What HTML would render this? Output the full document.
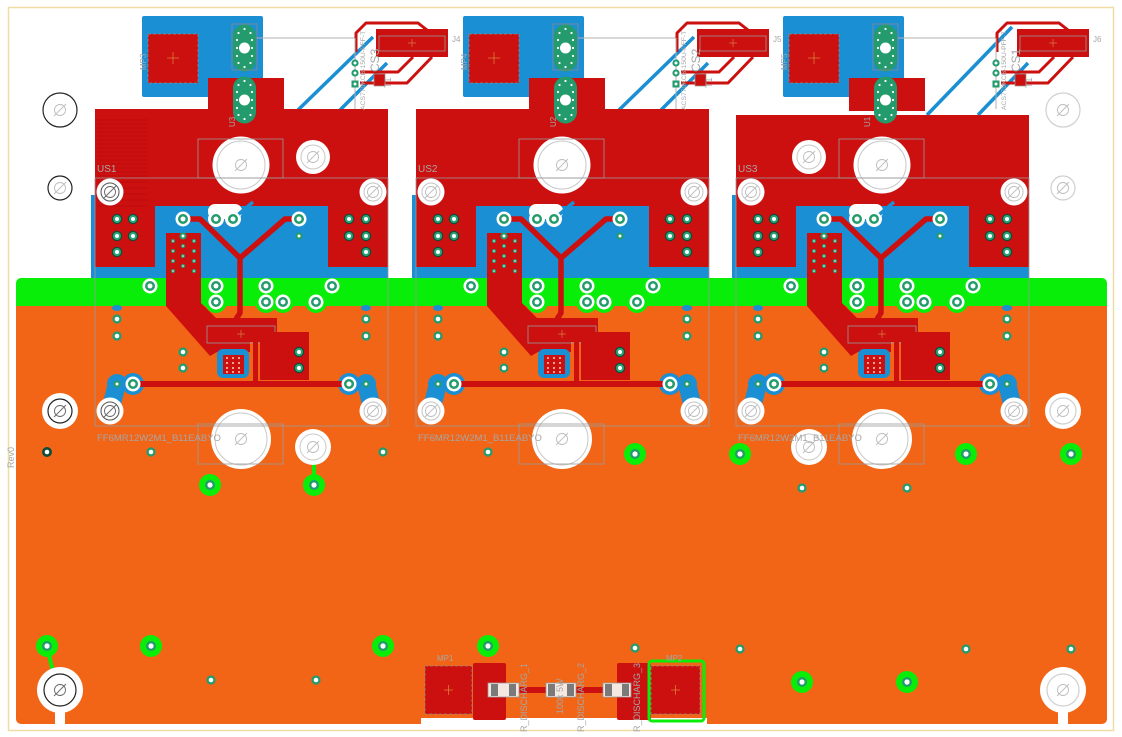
<!DOCTYPE html>
<html><head><meta charset="utf-8"><style>
html,body{margin:0;padding:0;background:#fff;}
svg{display:block;}
text{font-family:"Liberation Sans",sans-serif;fill:#a6a6a6;}
</style></head><body>
<svg width="1122" height="737" viewBox="0 0 1122 737" xmlns="http://www.w3.org/2000/svg">
<defs>
 <g id="v"><circle r="4.6" fill="#239b6d"/><circle r="2.3" fill="#fff"/></g>
 <g id="cv"><circle r="7.5" fill="#fff"/><circle r="5" fill="#239b6d"/><circle r="2.5" fill="#fff"/></g>
 <g id="gv"><circle r="11" fill="#08ee08"/><circle r="5" fill="#239b6d"/><circle r="2.6" fill="#fff"/></g>
 <g id="rv"><circle r="5.2" fill="#0f4d38"/><circle r="4" fill="#2aa476"/><circle r="2" fill="#fff"/></g>
 <g id="sd"><circle r="3.6" fill="#239b6d"/><circle r="1.5" fill="#fff"/></g>
 <g id="td"><circle r="2" fill="#239b6d"/><circle r="0.8" fill="#fff"/></g>
 <g id="dia"><circle r="5.5" fill="none" stroke="#bdbdbd" stroke-width="0.9"/><line x1="-6" y1="6" x2="6" y2="-6" stroke="#bdbdbd" stroke-width="0.9"/></g>
 <g id="diad"><circle r="5.5" fill="none" stroke="#666" stroke-width="0.9"/><line x1="-6" y1="6" x2="6" y2="-6" stroke="#666" stroke-width="0.9"/></g>
 <g id="scr"><circle r="13.5" fill="#fff"/><circle r="9" fill="none" stroke="#c4c4c4" stroke-width="1"/><use href="#dia"/></g>
 <g id="oval">
  <rect x="-11.5" y="-23.5" width="23" height="47" rx="11.5" fill="#239b6d"/>
  <circle r="5.5" fill="#fff"/>
  <g fill="#fff">
   <circle cx="-6" cy="-15" r="1.1"/><circle cx="0" cy="-19" r="1.1"/><circle cx="6" cy="-15" r="1.1"/>
   <circle cx="-7.5" cy="-8" r="1.1"/><circle cx="7.5" cy="-8" r="1.1"/>
   <circle cx="-7.5" cy="0" r="1.1"/><circle cx="7.5" cy="0" r="1.1"/>
   <circle cx="-7.5" cy="8" r="1.1"/><circle cx="7.5" cy="8" r="1.1"/>
   <circle cx="-6" cy="15" r="1.1"/><circle cx="0" cy="19" r="1.1"/><circle cx="6" cy="15" r="1.1"/>
  </g>
 </g>
 <g id="mA">
  <rect x="142" y="16" width="121" height="81" rx="2" fill="#1a8fd3"/>
  <rect x="91" y="195" width="297" height="83" fill="#1a8fd3"/>
 </g>
 <g id="mB">
  <rect x="208" y="78" width="76" height="33" fill="#cc0f0f"/>
  <rect x="148" y="34" width="50" height="49" fill="#cc0f0f" stroke="#8a8a8a" stroke-width="0.8" stroke-dasharray="3 2"/>
  <line x1="167" y1="58" x2="179" y2="58" stroke="#e0a040" stroke-width="0.6"/>
  <line x1="173" y1="52" x2="173" y2="64" stroke="#e0a040" stroke-width="0.6"/>
  <use href="#oval" x="244.5" y="48"/>
  <use href="#oval" x="244.5" y="100"/>
  <rect x="232" y="24" width="25" height="46" fill="none" stroke="#8a8a8a" stroke-width="0.8"/>
  <line x1="257" y1="38" x2="355" y2="38" stroke="#b0b0b0" stroke-width="1"/>
  <circle cx="241" cy="165" r="28.5" fill="#fff"/>
  <circle cx="241" cy="165" r="24" fill="none" stroke="#c8c8c8" stroke-width="1"/>
  <use href="#dia" x="241" y="165"/>
  <rect x="198" y="139" width="85" height="39" fill="none" stroke="#9a9a9a" stroke-width="0.8"/>
  <rect x="208" y="204" width="34" height="15" rx="7" fill="#fff"/>
  <circle cx="216" cy="219" r="8" fill="#fff"/>
  <circle cx="233" cy="219" r="8" fill="#fff"/>
  <line x1="233" y1="219" x2="253" y2="202" stroke="#1a8fd3" stroke-width="3.5"/>
  <use href="#scr" x="110" y="192"/>
  <use href="#scr" x="373" y="192"/>
  <g fill="#08ee08">
   <circle cx="216" cy="302" r="11"/><circle cx="266" cy="302" r="11"/><circle cx="283" cy="302" r="11"/><circle cx="316" cy="302" r="11"/>
  </g>
  <ellipse cx="117" cy="308" rx="5" ry="3" fill="#1a8fd3"/>
  <ellipse cx="366" cy="308" rx="5" ry="3" fill="#1a8fd3"/>
  <polygon points="166,233 201,233 201,303 216,318 277,318 277,342 250,342 250,352 217,352 210,356 166,306" fill="#cc0f0f"/>
  <g>
   <use href="#td" x="173" y="241"/><use href="#td" x="183" y="246"/><use href="#td" x="194" y="241"/>
   <use href="#td" x="173" y="251"/><use href="#td" x="183" y="256"/><use href="#td" x="194" y="251"/>
   <use href="#td" x="173" y="261"/><use href="#td" x="183" y="266"/><use href="#td" x="194" y="261"/>
   <use href="#td" x="173" y="271"/><use href="#td" x="194" y="271"/>
  </g>
  <polyline points="183,219 200,219 240,258 240,313 236,319" fill="none" stroke="#cc0f0f" stroke-width="5.5" stroke-linejoin="round"/>
  <polyline points="299,219 285,219 240,258" fill="none" stroke="#cc0f0f" stroke-width="5.5" stroke-linejoin="round"/>
  <rect x="207" y="326" width="68" height="17" fill="none" stroke="#9a9a9a" stroke-width="0.8"/>
  <line x1="237" y1="334" x2="245" y2="334" stroke="#d89050" stroke-width="0.6"/>
  <line x1="241" y1="330" x2="241" y2="338" stroke="#d89050" stroke-width="0.6"/>
  <rect x="217" y="349" width="32" height="29" rx="6" fill="#1a8fd3"/>
  <rect x="223" y="355" width="21" height="19" fill="#cc0f0f"/>
  <g fill="#f4b0a0">
   <circle cx="227" cy="358" r="1.1"/><circle cx="233" cy="358" r="1.1"/><circle cx="239" cy="358" r="1.1"/>
   <circle cx="227" cy="363" r="1.1"/><circle cx="233" cy="363" r="1.1"/><circle cx="239" cy="363" r="1.1"/>
   <circle cx="227" cy="368" r="1.1"/><circle cx="233" cy="368" r="1.1"/><circle cx="239" cy="368" r="1.1"/>
   <circle cx="227" cy="372" r="1.1"/><circle cx="233" cy="372" r="1.1"/><circle cx="239" cy="372" r="1.1"/>
  </g>
  <rect x="253" y="342" width="5" height="42" fill="#cc0f0f"/>
  <rect x="260" y="332" width="49" height="48" fill="#cc0f0f"/>
  <use href="#rv" x="299" y="352"/><use href="#rv" x="299" y="368"/>
  <line x1="117" y1="384" x2="110" y2="411" stroke="#1a8fd3" stroke-width="18" stroke-linecap="round"/>
  <circle cx="117" cy="384" r="10" fill="#1a8fd3"/><circle cx="133" cy="384" r="11" fill="#1a8fd3"/>
  <line x1="366" y1="384" x2="373" y2="411" stroke="#1a8fd3" stroke-width="18" stroke-linecap="round"/>
  <circle cx="349" cy="384" r="11" fill="#1a8fd3"/><circle cx="366" cy="384" r="10" fill="#1a8fd3"/>
  <rect x="133" y="381" width="216" height="6" fill="#cc0f0f"/>
  <use href="#cv" x="133" y="384"/><use href="#cv" x="349" y="384"/>
  <use href="#sd" x="117" y="384"/><use href="#sd" x="366" y="384"/>
  <use href="#scr" x="110" y="411"/>
  <use href="#scr" x="373" y="411"/>
  <use href="#rv" x="117" y="219"/><use href="#rv" x="133" y="219"/><use href="#rv" x="117" y="236"/><use href="#rv" x="133" y="236"/><use href="#rv" x="117" y="252"/>
  <use href="#rv" x="349" y="219"/><use href="#rv" x="366" y="219"/><use href="#rv" x="349" y="236"/><use href="#rv" x="366" y="236"/><use href="#rv" x="366" y="252"/>
  <use href="#cv" x="183" y="219"/><use href="#cv" x="216" y="219"/><use href="#cv" x="233" y="219"/><use href="#cv" x="299" y="219"/>
  <use href="#sd" x="183" y="236"/><use href="#sd" x="299" y="236"/>
  <use href="#cv" x="150" y="286"/><use href="#cv" x="216" y="286"/><use href="#cv" x="266" y="286"/><use href="#cv" x="332" y="286"/>
  <use href="#cv" x="216" y="302"/><use href="#cv" x="266" y="302"/><use href="#cv" x="283" y="302"/><use href="#cv" x="316" y="302"/>
  <use href="#v" x="117" y="319"/><use href="#v" x="117" y="336"/><use href="#v" x="366" y="319"/><use href="#v" x="366" y="336"/>
  <use href="#v" x="183" y="352"/><use href="#v" x="183" y="368"/>
  <circle cx="241" cy="439" r="30" fill="#fff"/>
  <circle cx="241" cy="439" r="26" fill="none" stroke="#c8c8c8" stroke-width="1"/>
  <use href="#dia" x="241" y="439"/>
  <rect x="198" y="424" width="85" height="40" fill="none" stroke="#9a9a9a" stroke-width="0.8"/>
  <rect x="95" y="178" width="293" height="248" fill="none" stroke="#9a9a9a" stroke-width="0.8"/>
  <rect x="376" y="29" width="72" height="28" fill="#cc0f0f"/>
  <rect x="379" y="36" width="66" height="15" fill="none" stroke="#9a9a9a" stroke-width="0.8"/>
  <line x1="408" y1="43" x2="416" y2="43" stroke="#d89050" stroke-width="0.6"/>
  <line x1="412" y1="39" x2="412" y2="47" stroke="#d89050" stroke-width="0.6"/>
  <g fill="none" stroke="#cc0f0f" stroke-width="3" stroke-linejoin="round">
   <polyline points="356,52 356,33 366,23 418,23 427,30"/>
   <polyline points="413,57 398,72 360,72"/>
   <polyline points="432,57 407,83 360,83"/>
  </g>
  <rect x="374" y="74" width="11" height="12" fill="#cc0f0f" stroke="#9a9a9a" stroke-width="0.7"/>
  <line x1="355" y1="38" x2="355" y2="109" stroke="#b0b0b0" stroke-width="1"/>
  <use href="#sd" x="355" y="63"/><use href="#sd" x="355" y="73"/>
  <rect x="351.5" y="80.5" width="7" height="7" fill="#239b6d"/><circle cx="355" cy="84" r="1.5" fill="#fff"/>
 </g>
</defs>

<rect x="8.5" y="7.5" width="1105" height="723" fill="none" stroke="#f1dca5" stroke-width="1.5"/>

<rect x="16" y="300" width="1091" height="424" rx="5" fill="#f26516"/>
<rect x="16" y="278" width="1091" height="27" rx="5" fill="#08ee08"/>
<rect x="16" y="290" width="1091" height="16" fill="#08ee08"/>
<rect x="421" y="718" width="286" height="8" fill="#fff"/>

<use href="#mA"/>
<use href="#mA" x="321"/>
<use href="#mA" x="641"/>

<g stroke="#1a8fd3" stroke-width="3.5">
 <line x1="298" y1="110" x2="373" y2="37"/><line x1="340" y1="110" x2="387" y2="63"/>
 <line x1="619" y1="110" x2="694" y2="37"/><line x1="661" y1="110" x2="708" y2="63"/>
 <line x1="927" y1="115" x2="1012" y2="27"/><line x1="978" y1="115" x2="1028" y2="63"/>
</g>

<g fill="#cc0f0f">
 <path d="M95,109 H388 V267 H328 V206 H155 V267 H95 Z"/>
 <path d="M416,109 H709 V267 H649 V206 H476 V267 H416 Z"/>
 <path d="M736,115 H1029 V267 H969 V206 H796 V267 H736 Z"/>
</g>
<g stroke="#a80707" stroke-width="0.6" opacity="0.7">
 <line x1="97" y1="120" x2="148" y2="120"/><line x1="97" y1="124" x2="148" y2="124"/><line x1="97" y1="128" x2="148" y2="128"/><line x1="97" y1="132" x2="148" y2="132"/><line x1="97" y1="136" x2="148" y2="136"/><line x1="97" y1="140" x2="148" y2="140"/><line x1="97" y1="144" x2="148" y2="144"/><line x1="97" y1="148" x2="148" y2="148"/><line x1="97" y1="152" x2="148" y2="152"/><line x1="97" y1="156" x2="148" y2="156"/><line x1="97" y1="160" x2="148" y2="160"/><line x1="97" y1="164" x2="148" y2="164"/><line x1="97" y1="168" x2="148" y2="168"/><line x1="97" y1="172" x2="148" y2="172"/><line x1="97" y1="176" x2="148" y2="176"/><line x1="97" y1="182" x2="148" y2="182"/><line x1="97" y1="188" x2="148" y2="188"/><line x1="97" y1="194" x2="148" y2="194"/><line x1="97" y1="200" x2="148" y2="200"/><line x1="97" y1="206" x2="148" y2="206"/>
</g>

<line x1="314" y1="462" x2="314" y2="485" stroke="#08ee08" stroke-width="4"/>
<line x1="47" y1="646" x2="53" y2="672" stroke="#08ee08" stroke-width="4"/>

<use href="#mB"/>
<use href="#mB" x="321"/>
<use href="#mB" x="641"/>

<circle cx="110" cy="192" r="9" fill="#fff" stroke="#555" stroke-width="1"/><use href="#diad" x="110" y="192"/>
<circle cx="110" cy="411" r="9" fill="#fff" stroke="#555" stroke-width="1"/><use href="#diad" x="110" y="411"/>

<g>
 <circle cx="313" cy="157" r="17" fill="#fff"/><circle cx="313" cy="157" r="12" fill="none" stroke="#c8c8c8"/><use href="#dia" x="313" y="157"/>
 <circle cx="313" cy="447" r="18" fill="#fff"/><circle cx="313" cy="447" r="13" fill="none" stroke="#c8c8c8"/><use href="#dia" x="313" y="447"/>
 <circle cx="809" cy="157" r="17" fill="#fff"/><circle cx="809" cy="157" r="12" fill="none" stroke="#c8c8c8"/><use href="#dia" x="809" y="157"/>
 <circle cx="809" cy="447" r="18" fill="#fff"/><circle cx="809" cy="447" r="13" fill="none" stroke="#c8c8c8"/><use href="#dia" x="809" y="447"/>
</g>

<circle cx="60" cy="110" r="17" fill="#fff" stroke="#222" stroke-width="1.2"/><use href="#dia" x="60" y="110"/>
<circle cx="60" cy="188" r="12" fill="#fff" stroke="#222" stroke-width="1.2"/><use href="#dia" x="60" y="188"/>
<circle cx="60" cy="411" r="18" fill="#fff"/><circle cx="60" cy="411" r="12" fill="none" stroke="#222" stroke-width="1.2"/><use href="#diad" x="60" y="411"/>
<rect x="55" y="700" width="10" height="26" fill="#fff"/>
<circle cx="60" cy="690" r="23" fill="#fff"/><circle cx="60" cy="690" r="16" fill="none" stroke="#222" stroke-width="1.2"/><use href="#diad" x="60" y="690"/>
<circle cx="1063" cy="110" r="17" fill="#fff" stroke="#cfcfcf" stroke-width="1.2"/><use href="#dia" x="1063" y="110"/>
<circle cx="1063" cy="188" r="12" fill="#fff" stroke="#cfcfcf" stroke-width="1.2"/><use href="#dia" x="1063" y="188"/>
<circle cx="1063" cy="411" r="18" fill="#fff"/><circle cx="1063" cy="411" r="13" fill="none" stroke="#cfcfcf" stroke-width="1.2"/><use href="#dia" x="1063" y="411"/>
<rect x="1058" y="700" width="10" height="26" fill="#fff"/>
<circle cx="1063" cy="690" r="23" fill="#fff"/><circle cx="1063" cy="690" r="16" fill="none" stroke="#cfcfcf" stroke-width="1.2"/><use href="#dia" x="1063" y="690"/>

<circle cx="47" cy="452" r="5" fill="#0f4d38"/><circle cx="47" cy="452" r="2.3" fill="#fff"/>
<use href="#v" x="151" y="452"/><use href="#v" x="383" y="452"/><use href="#v" x="488" y="452"/>
<use href="#v" x="802" y="488"/><use href="#v" x="907" y="488"/>
<use href="#v" x="635" y="648"/><use href="#v" x="740" y="649"/><use href="#v" x="966" y="649"/><use href="#v" x="1071" y="649"/>
<use href="#v" x="211" y="680"/><use href="#v" x="316" y="680"/>
<use href="#gv" x="635" y="454"/><use href="#gv" x="740" y="454"/><use href="#gv" x="966" y="454"/><use href="#gv" x="1071" y="454"/>
<use href="#gv" x="210" y="485"/><use href="#gv" x="314" y="485"/>
<use href="#gv" x="47" y="646"/><use href="#gv" x="151" y="646"/><use href="#gv" x="383" y="646"/><use href="#gv" x="488" y="646"/>
<use href="#gv" x="802" y="682"/><use href="#gv" x="907" y="682"/>

<rect x="425" y="666" width="47" height="48" fill="#cc0f0f" stroke="#8a8a8a" stroke-width="0.8" stroke-dasharray="3 2"/>
<line x1="444" y1="690" x2="453" y2="690" stroke="#e0a040" stroke-width="0.6"/><line x1="448.5" y1="685" x2="448.5" y2="695" stroke="#e0a040" stroke-width="0.6"/>
<rect x="473" y="663" width="33" height="57" rx="2" fill="#cc0f0f"/>
<rect x="617" y="663" width="34" height="57" rx="2" fill="#cc0f0f"/>
<rect x="649" y="661" width="55" height="60" rx="3" fill="none" stroke="#08ee08" stroke-width="3"/>
<rect x="651" y="666" width="49" height="48" fill="#cc0f0f" stroke="#8a8a8a" stroke-width="0.8" stroke-dasharray="3 2"/>
<line x1="671" y1="690" x2="680" y2="690" stroke="#e0a040" stroke-width="0.6"/><line x1="675.5" y1="685" x2="675.5" y2="695" stroke="#e0a040" stroke-width="0.6"/>
<rect x="506" y="687" width="112" height="6" fill="#cc0f0f"/>
<g>
 <rect x="488" y="683" width="31" height="14" fill="#f5e8e0" stroke="#9a9a9a" stroke-width="0.8"/>
 <rect x="491" y="684" width="7" height="12" fill="#7a7a7a"/><rect x="509" y="684" width="7" height="12" fill="#7a7a7a"/>
 <rect x="546" y="683" width="30" height="14" fill="#f5e8e0" stroke="#9a9a9a" stroke-width="0.8"/>
 <rect x="548" y="684" width="7" height="12" fill="#7a7a7a"/><rect x="567" y="684" width="7" height="12" fill="#7a7a7a"/>
 <rect x="603" y="683" width="28" height="14" fill="#f5e8e0" stroke="#9a9a9a" stroke-width="0.8"/>
 <rect x="605" y="684" width="7" height="12" fill="#7a7a7a"/><rect x="622" y="684" width="7" height="12" fill="#7a7a7a"/>
</g>

<g font-size="10">
 <text x="97" y="172">US1</text><text x="418" y="172">US2</text><text x="738" y="172">US3</text>
</g>
<g font-size="9.5">
 <text x="97" y="441">FF6MR12W2M1_B11EABYO</text><text x="418" y="441">FF6MR12W2M1_B11EABYO</text><text x="738" y="441">FF6MR12W2M1_B11EABYO</text>
</g>
<g font-size="8">
 <text x="452" y="42">J4</text><text x="773" y="42">J5</text><text x="1093" y="42">J6</text>
 <text transform="translate(146,70) rotate(-90)">MP3</text>
 <text transform="translate(467,70) rotate(-90)">MP4</text>
 <text transform="translate(787,70) rotate(-90)">MP5</text>
 <text transform="translate(235,127) rotate(-90)">U3</text>
 <text transform="translate(556,127) rotate(-90)">U2</text>
 <text transform="translate(870,127) rotate(-90)">U1</text>
 <text x="437" y="661">MP1</text><text x="666" y="661">MP2</text>
</g>
<g font-size="6.8">
 <text transform="translate(365,110) rotate(-90)">ACS770KCB-150U-PFF-T</text>
 <text transform="translate(686,110) rotate(-90)">ACS770KCB-150U-PFF-T</text>
 <text transform="translate(1006,110) rotate(-90)">ACS770KCB-150U-PFF-T</text>
</g>
<g font-size="9">
 <text transform="translate(391,88) rotate(-90)">T1</text>
 <text transform="translate(712,88) rotate(-90)">T1</text>
 <text transform="translate(1032,88) rotate(-90)">T1</text>
 <text transform="translate(14,468) rotate(-90)">Rev0</text>
</g>
<g font-size="12">
 <text transform="translate(379,72) rotate(-90)">CS3</text>
 <text transform="translate(700,72) rotate(-90)">CS2</text>
 <text transform="translate(1020,72) rotate(-90)">CS1</text>
</g>
<g font-size="9">
 <text transform="translate(527,732) rotate(-90)">R_DISCHARG_1</text>
 <text transform="translate(563,714) rotate(-90)">100k 5W</text>
 <text transform="translate(584,732) rotate(-90)">R_DISCHARG_2</text>
 <text transform="translate(640,732) rotate(-90)">R_DISCHARG_3</text>
</g>
</svg>
</body></html>
